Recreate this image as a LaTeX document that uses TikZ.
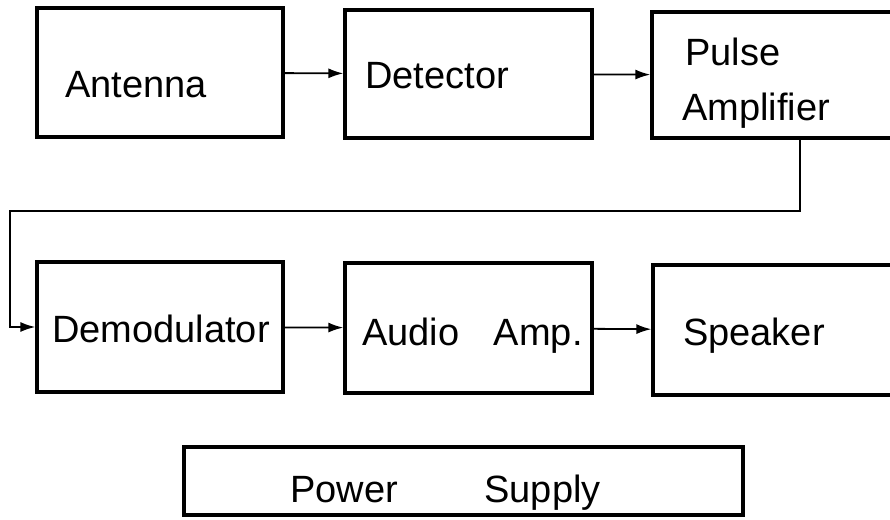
\documentclass[tikz,border=0pt]{standalone}
\usepackage{fontspec}
\setmainfont{Liberation Sans}
\usetikzlibrary{arrows.meta}
\begin{document}
\begin{tikzpicture}[x=1pt,y=-1pt,
  block/.style={draw,rectangle,line width=3.2pt,inner sep=0pt},
  lbl/.style={anchor=base west,inner sep=0pt,font=\fontsize{38}{40}\selectfont},
  wire/.style={line width=1.8pt,-{Latex[length=15pt,width=10pt]}}]
\useasboundingbox (0,0) rectangle (890,519);
\clip (0,0) rectangle (890,519);
\node[block,minimum width=246pt,minimum height=129pt] (ant) at (160,72.5) {};
\node[block,minimum width=247pt,minimum height=128pt] (det) at (468.5,74) {};
\node[block,minimum width=243pt,minimum height=126pt] (pamp) at (773.5,75) {};
\node[block,minimum width=246pt,minimum height=130pt] (demod) at (160,327) {};
\node[block,minimum width=247pt,minimum height=130pt] (aamp) at (468.5,328) {};
\node[block,minimum width=242pt,minimum height=130pt] (spk) at (774,330) {};
\node[block,minimum width=559pt,minimum height=68pt] (psu) at (463.5,481) {};
\node[lbl] (antT) at (65,97) {Antenna};
\node[lbl] (detT) at (365,88) {Detector};
\node[lbl] (pampT) at (685,65) {Pulse};
\node[lbl] (pampU) at (682,120) {Amplifier};
\node[lbl] (demodT) at (52,342) {Demodulator};
\node[lbl] (aampT) at (362,345) {Audio\hspace{24pt} Amp.};
\node[lbl] (spkT) at (683,345) {Speaker};
\node[lbl] (psuT) at (290,502) {Power\hspace{76pt} Supply};
\coordinate (bendA) at (800,211);
\coordinate (bendB) at (10,211);
\draw[wire] (ant) -- (det);
\draw[wire] (det) -- (pamp);
\draw[wire] (demod) -- (aamp);
\draw[wire] (aamp) -- (spk);
\draw[wire] (pamp.south -| bendA) -- (bendA) -- (bendB) |- (demod.west);
\end{tikzpicture}
\end{document}
